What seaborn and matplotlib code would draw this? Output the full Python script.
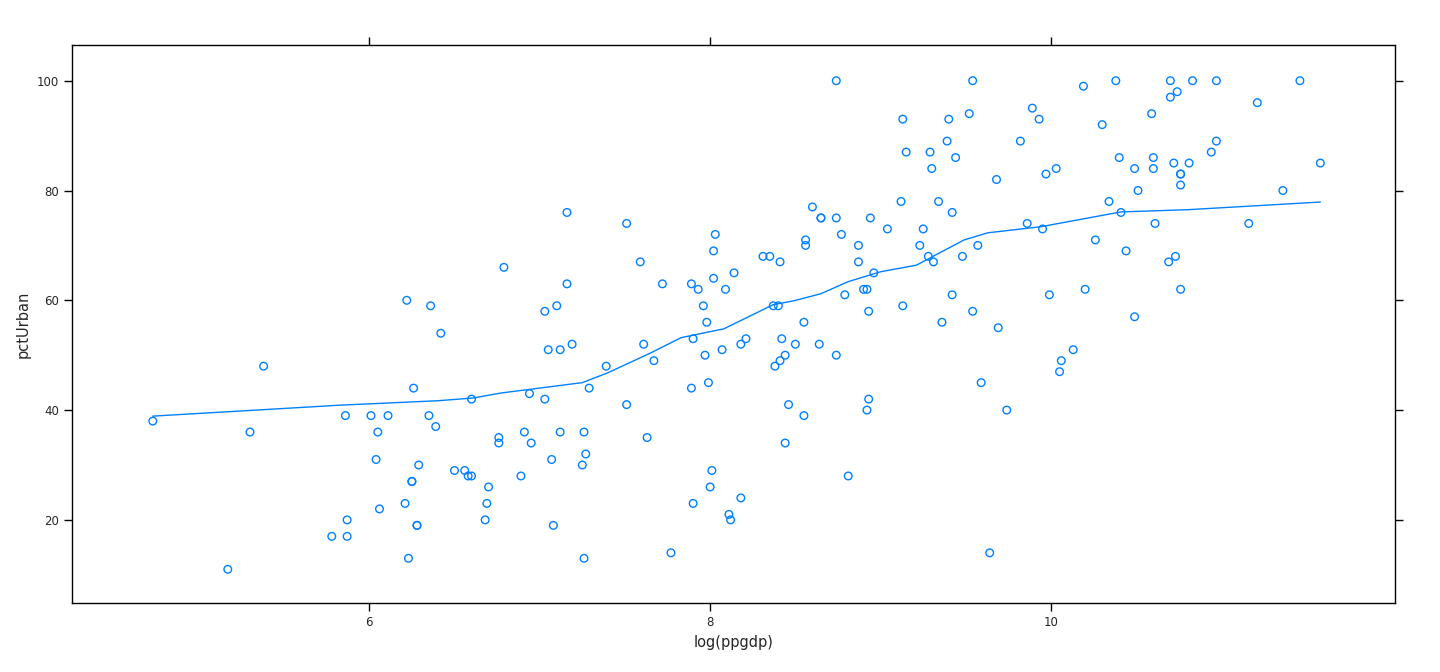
import matplotlib
matplotlib.use("Agg")
import matplotlib.pyplot as plt
import seaborn as sns
import pandas as pd

# === Dati ===
log_ppgdp = [
    4.73, 5.17, 5.30, 5.38, 6.22, 6.36, 6.42, 6.26, 6.60, 5.86, 6.01, 6.11, 6.35, 6.39, 6.05,
    6.76, 6.76, 6.04, 6.29, 6.50, 6.56, 6.58, 6.60, 6.25, 6.25, 6.70, 6.21, 6.69, 6.06, 5.87,
    6.68, 6.28, 6.28, 5.78, 5.87, 6.23,
    7.16, 7.51, 6.79, 7.16, 7.03, 7.10, 7.05, 7.12, 7.19, 7.59, 7.72, 7.61, 7.67, 7.39, 7.29,
    6.94, 7.03, 7.51, 6.91, 6.95, 7.12, 7.26, 7.27, 7.25, 7.07, 7.63, 6.89, 7.08, 7.26, 7.77,
    7.89, 7.93, 7.96, 7.98, 7.90, 8.02, 8.03, 8.02, 8.09, 8.14, 7.97, 8.07, 8.18, 8.21, 7.99,
    7.89, 8.01, 8.00, 7.90, 8.18, 8.11, 8.12, 8.31, 8.35, 8.41, 8.60, 8.65, 8.65, 8.74, 8.94,
    8.56, 8.56, 8.77, 8.87, 8.87, 8.96, 8.90, 8.92, 8.79, 8.93, 8.37, 8.40, 8.55, 8.42, 8.50,
    8.64, 8.74, 8.44, 8.41, 8.38, 8.46, 8.55, 8.44, 8.93, 8.92, 8.81, 8.74,
    9.54, 9.13, 9.40, 9.52, 9.39, 9.15, 9.29, 9.30, 9.44, 9.12, 9.34, 9.42, 9.04, 9.25, 9.23,
    9.28, 9.31, 9.48, 9.57, 9.68, 9.82, 9.89, 9.93, 10.19, 10.38, 10.70, 10.83, 10.97, 11.46,
    10.74, 10.70, 11.21, 10.59, 10.30, 10.97, 10.94, 10.40, 10.60, 10.72, 10.81, 11.58, 9.97,
    10.03, 10.49, 10.60, 10.76, 10.76, 10.76, 10.51, 11.36, 10.34, 10.41, 9.86, 10.61, 11.16,
    9.95, 10.26, 10.44, 10.73, 10.69, 10.76, 10.20, 9.99, 9.42, 9.13, 9.36, 9.54, 9.69, 10.49,
    10.13, 10.06, 10.05, 9.59, 9.74, 9.64,
]
pct_urban = [
    38, 11, 36, 48, 60, 59, 54, 44, 42, 39, 39, 39, 39, 37, 36,
    35, 34, 31, 30, 29, 29, 28, 28, 27, 27, 26, 23, 23, 22, 20,
    20, 19, 19, 17, 17, 13,
    76, 74, 66, 63, 58, 59, 51, 51, 52, 67, 63, 52, 49, 48, 44,
    43, 42, 41, 36, 34, 36, 36, 32, 30, 31, 35, 28, 19, 13, 14,
    63, 62, 59, 56, 53, 69, 72, 64, 62, 65, 50, 51, 52, 53, 45,
    44, 29, 26, 23, 24, 21, 20, 68, 68, 67, 77, 75, 75, 75, 75,
    71, 70, 72, 70, 67, 65, 62, 62, 61, 58, 59, 59, 56, 53, 52,
    52, 50, 50, 49, 48, 41, 39, 34, 42, 40, 28, 100,
    100, 93, 93, 94, 89, 87, 87, 84, 86, 78, 78, 76, 73, 73, 70,
    68, 67, 68, 70, 82, 89, 95, 93, 99, 100, 100, 100, 100, 100,
    98, 97, 96, 94, 92, 89, 87, 86, 86, 85, 85, 85, 83,
    84, 84, 84, 83, 83, 81, 80, 80, 78, 76, 74, 74, 74,
    73, 71, 69, 68, 67, 62, 62, 61, 61, 59, 56, 58, 55, 57,
    51, 49, 47, 45, 40, 14,
]

# === Curva loess ===
smooth_x = [4.73, 5.83, 6.40, 6.61, 6.77, 7.25, 7.40, 7.65, 7.83, 8.08, 8.37, 8.49, 8.65,
            8.81, 9.00, 9.21, 9.49, 9.63, 9.94, 10.41, 10.80, 11.58]
smooth_y = [38.9, 40.9, 41.7, 42.2, 43.1, 45.0, 46.8, 50.4, 53.2, 54.8, 59.2, 59.9, 61.2,
            63.4, 65.2, 66.4, 71.0, 72.3, 73.4, 76.1, 76.5, 77.9]

pts = pd.DataFrame({"log(ppgdp)": log_ppgdp, "pctUrban": pct_urban})
curve = pd.DataFrame({"x": smooth_x, "y": smooth_y})

sns.set_style("white")
plt.rcParams["font.family"] = ["DejaVu Sans"]
BLUE = "#0080FF"

fig = plt.figure(figsize=(14.4, 6.72), dpi=100)
ax = fig.add_axes([0.05, 0.103, 0.919, 0.83])

sns.scatterplot(data=pts, x="log(ppgdp)", y="pctUrban", ax=ax, marker="o",
                facecolors="none", edgecolor=BLUE, linewidth=1.0, s=30)
sns.lineplot(data=curve, x="x", y="y", ax=ax, color=BLUE, linewidth=1.0, sort=False)

ax.set_xlim(4.256, 12.02)
ax.set_ylim(4.9, 106.5)
ax.set_xticks([6, 8, 10])
ax.set_yticks([20, 40, 60, 80, 100])
ax.tick_params(direction="out", length=6, width=1, labelsize=8.5,
               top=True, right=True, bottom=True, left=True, color="black")
for sp in ax.spines.values():
    sp.set_color("black")
    sp.set_linewidth(1)
ax.set_xlabel("log(ppgdp)", fontsize=10.5)
ax.set_ylabel("pctUrban", fontsize=10.5)

plt.savefig("out.png", dpi=100)
plt.close()
